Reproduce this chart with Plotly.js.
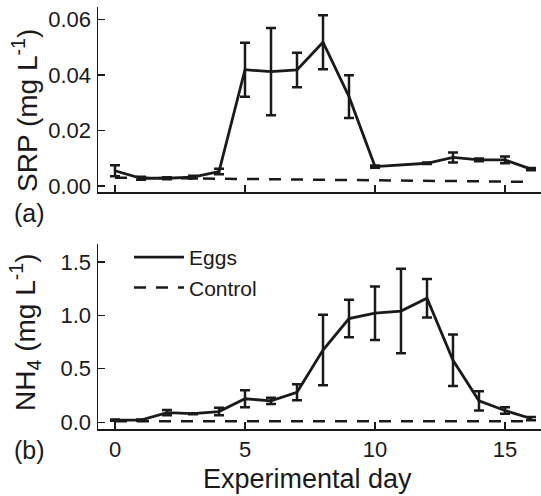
<!DOCTYPE html>
<html>
<head>
<meta charset="utf-8">
<script src="https://cdn.plot.ly/plotly-3.0.1.min.js"></script>
<style>html,body{margin:0;padding:0;background:#fff;}#chart{width:541px;height:496px;}</style>
</head>
<body>
<div id="chart"></div>
<script>
// SRP (panel a)
var srpDays = [0,1,2,3,4,5,6,7,8,9,10,12,13,14,15,16];
var srpEggs = [0.0055,0.0028,0.0028,0.0032,0.0052,0.0419,0.0412,0.0418,0.0518,0.0322,0.0070,0.0082,0.0103,0.0094,0.0094,0.0061];
var srpErr  = [0.0020,0.0005,0.0004,0.0005,0.0010,0.0097,0.0157,0.0062,0.0097,0.0077,0.0004,0.0003,0.0018,0.0005,0.0012,0.0004];
var ctlDays = [0,1,2,3,4,5,6,7,8,9,10,11,12,13,14,15,16];
var srpCtl  = [0.0030,0.0029,0.0029,0.0028,0.0028,0.0027,0.0026,0.0025,0.0024,0.0023,0.0022,0.0021,0.0020,0.0019,0.0018,0.0016,0.0015];
// NH4 (panel b)
var nhDays = [0,1,2,3,4,5,6,7,8,9,10,11,12,13,14,15,16];
var nhEggs = [0.02,0.02,0.09,0.08,0.10,0.22,0.20,0.28,0.675,0.97,1.02,1.04,1.16,0.58,0.20,0.11,0.035];
var nhErr  = [0.005,0.005,0.025,0.005,0.035,0.08,0.03,0.075,0.33,0.175,0.25,0.395,0.18,0.24,0.09,0.03,0.015];
var nhCtl   = [0.01,0.01,0.01,0.01,0.01,0.01,0.01,0.01,0.01,0.01,0.01,0.01,0.01,0.01,0.01,0.01,0.01];
var xTicks = [0,5,10,15];
var seriesNames = ['Eggs','Control'];

var ink = '#1a1a1a';
var FONT = 'Liberation Sans, Arial, Helvetica, sans-serif';
function errStyle(arr){ return {type:'data', visible:true, array:arr, thickness:2.5, width:5, color:ink}; }
function tf(){ return {family:FONT, size:22, color:ink}; }

var traces = [
  {x:srpDays, y:srpEggs, error_y:errStyle(srpErr), mode:'lines', line:{color:ink,width:2.8}, name:seriesNames[0], xaxis:'x', yaxis:'y', showlegend:false},
  {x:ctlDays, y:srpCtl, mode:'lines', line:{color:ink,width:2.5,dash:'12px,10px'}, name:seriesNames[1], xaxis:'x', yaxis:'y', showlegend:false},
  {x:nhDays, y:nhEggs, error_y:errStyle(nhErr), mode:'lines', line:{color:ink,width:2.8}, name:seriesNames[0], xaxis:'x2', yaxis:'y2'},
  {x:nhDays, y:nhCtl, mode:'lines', line:{color:ink,width:2.5,dash:'12px,10px'}, name:seriesNames[1], xaxis:'x2', yaxis:'y2'}
];

function ax(extra){
  var a = {showline:true, linecolor:ink, linewidth:1.5, ticks:'inside', ticklen:7, tickwidth:1.3, tickcolor:ink,
    showgrid:false, zeroline:false, tickfont:tf()};
  for (var k in extra) a[k] = extra[k];
  return a;
}

var xr = [-0.654, 16.385];
var layout = {
  width:541, height:496,
  margin:{l:98, r:0, t:7, b:67},
  paper_bgcolor:'#fff', plot_bgcolor:'#fff',
  font:{family:FONT, color:ink},
  xaxis: ax({domain:[0,1], range:xr, tickvals:xTicks, showticklabels:false, anchor:'y'}),
  yaxis: ax({domain:[0.5616,1], range:[-0.00216,0.0645], tickvals:[0,0.02,0.04,0.06], tickformat:'.2f', anchor:'x', ticklabelstandoff:1}),
  xaxis2: ax({domain:[0,1], range:xr, tickvals:xTicks, anchor:'y2'}),
  yaxis2: ax({domain:[0,0.4384], range:[-0.063,1.667], tickvals:[0,0.5,1.0,1.5], tickformat:'.1f', anchor:'x2', ticklabelstandoff:1}),
  showlegend:true,
  legend:{x:0.07, y:0.455, xanchor:'left', yanchor:'top', bgcolor:'rgba(0,0,0,0)', font:{family:FONT, size:21, color:ink}, itemwidth:50, tracegroupgap:0},
  annotations:[
    {text:'SRP (mg L<sup>-1</sup>)', xref:'paper', yref:'paper', x:-0.1648, y:0.756, textangle:-90, showarrow:false, xanchor:'center', yanchor:'middle', font:{family:FONT,size:28,color:ink}},
    {text:'NH<sub>4</sub> (mg L<sup>-1</sup>)', xref:'paper', yref:'paper', x:-0.1648, y:0.2299, textangle:-90, showarrow:false, xanchor:'center', yanchor:'middle', font:{family:FONT,size:28,color:ink}},
    {text:'Experimental day', xref:'paper', yref:'paper', x:0.4718, y:-0.1185, showarrow:false, xanchor:'center', yanchor:'middle', font:{family:FONT,size:27,color:ink}},
    {text:'(a)', xref:'paper', yref:'paper', x:-0.1535, y:0.5118, showarrow:false, xanchor:'center', yanchor:'middle', font:{family:FONT,size:25,color:ink}},
    {text:'(b)', xref:'paper', yref:'paper', x:-0.1535, y:-0.0498, showarrow:false, xanchor:'center', yanchor:'middle', font:{family:FONT,size:25,color:ink}}
  ]
};
Plotly.newPlot('chart', traces, layout, {displayModeBar:false, staticPlot:true});
</script>
</body>
</html>
